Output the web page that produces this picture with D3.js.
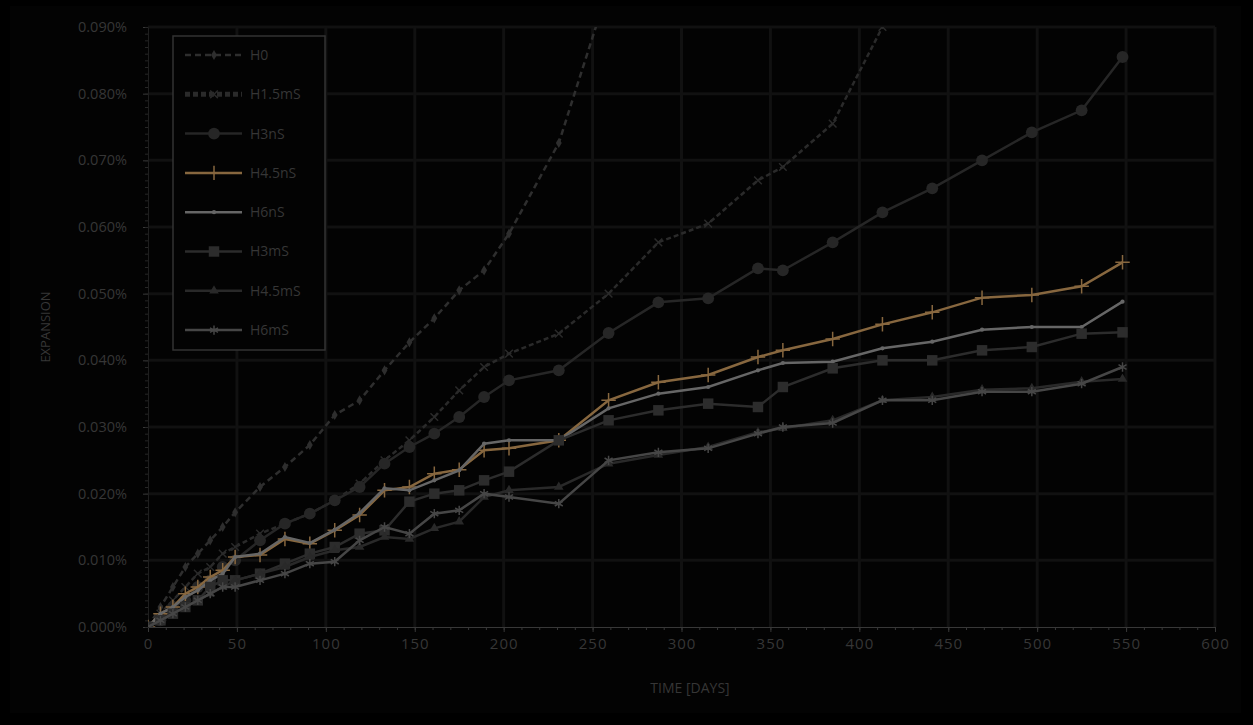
<!DOCTYPE html>
<html>
<head>
<meta charset="utf-8">
<script src="https://cdn.jsdelivr.net/npm/d3@7"></script>
<style>
  body { margin: 0; background: #000; }
  text { font-family: "Open Sans", "Liberation Sans", sans-serif; }
</style>
</head>
<body>
<script>
// data (expansion in %)
var days = [0, 7, 14, 21, 28, 35, 42, 49, 63, 77, 91, 105, 119, 133, 147, 161, 175, 189, 203, 231, 259, 287, 315, 343, 357, 385, 413, 441, 469, 497, 525, 548];

var h0 = [0, 0.003, 0.006, 0.009, 0.011, 0.013, 0.015, 0.0172, 0.021, 0.024, 0.0273, 0.0318, 0.034, 0.0385, 0.0427, 0.0463, 0.0505, 0.0535, 0.059, 0.0726, 0.096];
var h15mS = [0, 0.002, 0.004, 0.006, 0.008, 0.009, 0.011, 0.012, 0.014, 0.0155, 0.017, 0.019, 0.0215, 0.025, 0.028, 0.0315, 0.0355, 0.039, 0.041, 0.044, 0.050, 0.0577, 0.0605, 0.067, 0.069, 0.0755, 0.090, 0.097];
var h3nS = [0, 0.001, 0.003, 0.004, 0.006, 0.007, 0.009, 0.010, 0.013, 0.0155, 0.017, 0.019, 0.021, 0.0245, 0.027, 0.029, 0.0315, 0.0345, 0.037, 0.0385, 0.0441, 0.0487, 0.0493, 0.0538, 0.0535, 0.0577, 0.0622, 0.0658, 0.070, 0.0742, 0.0775, 0.0855];
var h45nS = [0, 0.002, 0.003, 0.005, 0.006, 0.0075, 0.0085, 0.0105, 0.0108, 0.0132, 0.0125, 0.0145, 0.0168, 0.0205, 0.021, 0.023, 0.0236, 0.0265, 0.0268, 0.028, 0.034, 0.0367, 0.0378, 0.0405, 0.0415, 0.0432, 0.0454, 0.0472, 0.0494, 0.0498, 0.0511, 0.0547];
var h6nS = [0, 0.002, 0.003, 0.0045, 0.0055, 0.007, 0.008, 0.0105, 0.011, 0.0135, 0.0126, 0.0146, 0.0171, 0.0208, 0.0205, 0.022, 0.0235, 0.0275, 0.028, 0.028, 0.0328, 0.035, 0.036, 0.0385, 0.0396, 0.0398, 0.0418, 0.0428, 0.0446, 0.045, 0.045, 0.0488];
var h3mS = [0, 0.001, 0.002, 0.003, 0.004, 0.006, 0.007, 0.007, 0.008, 0.0095, 0.011, 0.012, 0.014, 0.0145, 0.0188, 0.020, 0.0205, 0.022, 0.0233, 0.028, 0.031, 0.0325, 0.0335, 0.033, 0.036, 0.0388, 0.040, 0.040, 0.0415, 0.042, 0.044, 0.0442];
var h45mS = [0, 0.001, 0.002, 0.003, 0.004, 0.005, 0.006, 0.007, 0.008, 0.009, 0.0105, 0.0115, 0.012, 0.0135, 0.0132, 0.0148, 0.0158, 0.0195, 0.0205, 0.021, 0.0245, 0.0258, 0.027, 0.0292, 0.0298, 0.031, 0.034, 0.0345, 0.0356, 0.0358, 0.0368, 0.0372];
var h6mS = [0, 0.001, 0.002, 0.003, 0.004, 0.005, 0.006, 0.006, 0.007, 0.008, 0.0095, 0.0098, 0.013, 0.015, 0.014, 0.017, 0.0175, 0.020, 0.0195, 0.0185, 0.025, 0.0262, 0.0268, 0.029, 0.030, 0.0306, 0.034, 0.034, 0.0353, 0.0353, 0.0365, 0.039];

var names = ["H0", "H1.5mS", "H3nS", "H4.5nS", "H6nS", "H3mS", "H4.5mS", "H6mS"];
var xTicks = [0, 50, 100, 150, 200, 250, 300, 350, 400, 450, 500, 550, 600];
var yTicks = [0, 0.01, 0.02, 0.03, 0.04, 0.05, 0.06, 0.07, 0.08, 0.09];

var plusSym = d3.symbolPlus || d3.symbolCross;

// series styles
var series = [
  {name: names[0], values: h0, color: "#2e2e2e", dash: "6,4", sym: d3.symbolDiamond, size: 30, fill: true},
  {name: names[1], values: h15mS, color: "#2a2a2a", dash: "5,3", sym: d3.symbolX, size: 40, fill: false},
  {name: names[2], values: h3nS, color: "#262626", dash: null, sym: d3.symbolCircle, size: 110, fill: true},
  {name: names[3], values: h45nS, color: "#87673f", dash: null, sym: plusSym, size: 70, fill: false},
  {name: names[4], values: h6nS, color: "#666", dash: null, sym: d3.symbolCircle, size: 14, fill: true},
  {name: names[5], values: h3mS, color: "#2c2c2c", dash: null, sym: d3.symbolSquare, size: 110, fill: true},
  {name: names[6], values: h45mS, color: "#292929", dash: null, sym: d3.symbolTriangle, size: 40, fill: true},
  {name: names[7], values: h6mS, color: "#464646", dash: null, sym: d3.symbolAsterisk || d3.symbolStar, size: 60, fill: false}
];

var W = 1253, H = 725;
var mLeft = 148, mRight = 1215, mTop = 27, mBottom = 627;

var svg = d3.select("body").append("svg")
  .attr("width", W)
  .attr("height", H);

svg.append("rect").attr("x", 0).attr("y", 0).attr("width", W).attr("height", H).attr("fill", "#000");
svg.append("rect").attr("x", 10).attr("y", 6).attr("width", W - 22).attr("height", H - 18).attr("fill", "#030303");

var x = d3.scaleLinear().domain([0, 600]).range([mLeft, mRight]);
var y = d3.scaleLinear().domain([0, 0.09]).range([mBottom, mTop]);

// gridlines
svg.append("g").selectAll("line")
  .data(yTicks.slice(1))
  .enter().append("line")
  .attr("x1", mLeft).attr("x2", mRight)
  .attr("y1", function(d) { return y(d); })
  .attr("y2", function(d) { return y(d); })
  .attr("stroke", "#111")
  .attr("stroke-width", 3);

svg.append("g").selectAll("line")
  .data(xTicks.slice(1))
  .enter().append("line")
  .attr("y1", mTop).attr("y2", mBottom)
  .attr("x1", function(d) { return x(d); })
  .attr("x2", function(d) { return x(d); })
  .attr("stroke", "#111")
  .attr("stroke-width", 3);

// axes
var xAxis = svg.append("g")
  .attr("transform", "translate(0," + mBottom + ")")
  .call(d3.axisBottom(x).tickValues(xTicks).tickSize(5).tickSizeOuter(0).tickFormat(d3.format("d")));
xAxis.selectAll("text").attr("fill", "#363636").attr("font-size", 15).attr("dy", "0.95em").attr("letter-spacing", 1);

var xMinor = svg.append("g")
  .attr("transform", "translate(0," + mBottom + ")")
  .call(d3.axisBottom(x).tickValues(d3.range(0, 601, 10)).tickSize(3).tickSizeOuter(0).tickFormat(""));

var yAxis = svg.append("g")
  .attr("transform", "translate(" + mLeft + ",0)")
  .call(d3.axisLeft(y).tickValues(yTicks).tickSize(5).tickSizeOuter(0).tickFormat(function(d) { return d.toFixed(3) + "%"; }));
yAxis.selectAll("text").attr("fill", "#363636").attr("font-size", 14.5).attr("dx", "-0.9em");

var yMinor = svg.append("g")
  .attr("transform", "translate(" + mLeft + ",0)")
  .call(d3.axisLeft(y).tickValues(d3.range(0, 91).map(function(i) { return i / 1000; })).tickSize(3).tickSizeOuter(0).tickFormat(""));

[xAxis, xMinor, yAxis, yMinor].forEach(function(g) {
  g.select(".domain").attr("stroke", "#383838");
  g.selectAll(".tick line").attr("stroke", "#383838");
});
yAxis.select(".domain").attr("stroke", "#1e1e1e");
yMinor.select(".domain").attr("stroke", "#1e1e1e");
yMinor.selectAll(".tick line").attr("stroke", "#262626");

// axis titles
svg.append("text")
  .attr("x", 690)
  .attr("y", 693)
  .attr("text-anchor", "middle")
  .attr("fill", "#363636")
  .attr("font-size", 14)
  .text("TIME [DAYS]");

svg.append("text")
  .attr("transform", "translate(50," + ((mTop + mBottom) / 2) + ") rotate(-90)")
  .attr("text-anchor", "middle")
  .attr("fill", "#363636")
  .attr("font-size", 13)
  .text("EXPANSION");

// clip
svg.append("clipPath").attr("id", "plot")
  .append("rect").attr("x", mLeft).attr("y", mTop).attr("width", mRight - mLeft).attr("height", mBottom - mTop);

var line = d3.line()
  .x(function(d) { return x(d[0]); })
  .y(function(d) { return y(d[1]); });

var plot = svg.append("g").attr("clip-path", "url(#plot)");

series.forEach(function(s) {
  var pts = s.values.map(function(v, i) { return [days[i], v]; });
  plot.append("path")
    .datum(pts)
    .attr("d", line)
    .attr("fill", "none")
    .attr("stroke", s.color)
    .attr("stroke-width", 2.5)
    .attr("stroke-dasharray", s.dash);

  plot.selectAll(null)
    .data(pts)
    .enter().append("path")
    .attr("transform", function(d) { return "translate(" + x(d[0]) + "," + y(d[1]) + ")"; })
    .attr("d", d3.symbol().type(s.sym).size(s.size))
    .attr("fill", s.fill ? s.color : "none")
    .attr("stroke", s.fill ? "none" : s.color)
    .attr("stroke-width", 1.5);
});

// legend
var lg = svg.append("g");
lg.append("rect")
  .attr("x", 173).attr("y", 36)
  .attr("width", 152).attr("height", 314)
  .attr("fill", "#030303")
  .attr("stroke", "#333")
  .attr("stroke-width", 1.5);

series.forEach(function(s, i) {
  var ly = 55 + i * 39.3;
  lg.append("line")
    .attr("x1", 185).attr("x2", 242)
    .attr("y1", ly).attr("y2", ly)
    .attr("stroke", s.color)
    .attr("stroke-width", i === 1 ? 5 : 2.5)
    .attr("stroke-dasharray", s.dash);
  lg.append("path")
    .attr("transform", "translate(214," + ly + ")")
    .attr("d", d3.symbol().type(s.sym).size(s.size))
    .attr("fill", s.fill ? s.color : "none")
    .attr("stroke", s.fill ? "none" : s.color)
    .attr("stroke-width", 1.5);
  lg.append("text")
    .attr("x", 250).attr("y", ly)
    .attr("dy", "0.35em")
    .attr("fill", "#363636")
    .attr("font-size", 14)
    .text(s.name);
});
</script>
</body>
</html>
